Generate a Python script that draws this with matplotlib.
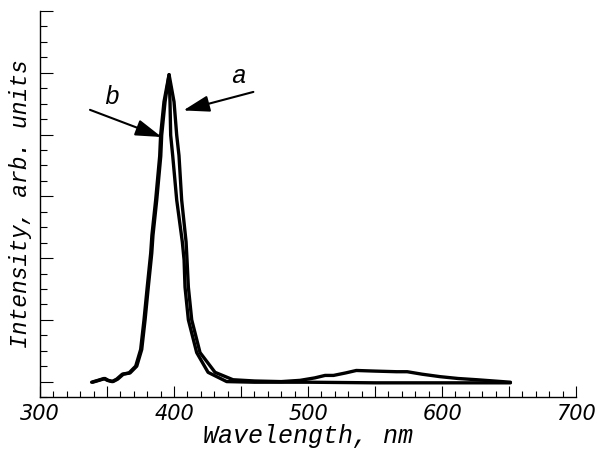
import numpy as np
import matplotlib
matplotlib.use('Agg')
import matplotlib.pyplot as plt
from matplotlib.ticker import MultipleLocator

# shared rising edge (both spectra overlap here)
left_wl = [339.3, 344, 348.5, 351, 354.5, 358, 362.2, 367.2, 372.2, 375.9, 378.4,
           380.8, 383.4, 384.3, 387.1, 390.1, 390.8, 393.3, 396.3]
left_int = [-0.01, 0.02, 0.05, 0.02, 0.0, 0.04, 0.12, 0.14, 0.25, 0.52, 1.0,
            1.53, 2.08, 2.37, 2.94, 3.65, 3.99, 4.53, 4.97]

# falling edge + tail, curve a (outer, with broad band near 540 nm)
a_wl = [400.0, 402.0, 403.7, 405.7, 409.0, 409.7, 410.7, 413.2, 419.4, 430.6, 444.0,
        460, 480, 494, 505, 512.7, 519, 528, 536, 550, 566, 574, 585, 598.5, 612, 626, 651]
a_int = [4.53, 3.99, 3.66, 2.94, 2.26, 1.97, 1.53, 1.0, 0.47, 0.15, 0.03,
         0.01, 0.0, 0.02, 0.06, 0.10, 0.10, 0.14, 0.18, 0.17, 0.16, 0.16, 0.12, 0.08, 0.05, 0.03, -0.01]

# falling edge + tail, curve b (inner, flat tail)
b_wl = [397.0, 397.5, 399.0, 402.0, 406.2, 407.5, 408.2, 410.7, 416.9, 425.4, 439.3,
        460, 500, 550, 600, 651]
b_int = [4.53, 3.99, 3.66, 2.94, 2.26, 1.97, 1.53, 1.0, 0.47, 0.15, 0.0,
         -0.01, -0.01, -0.02, -0.02, -0.02]

lab_font = dict(family=['Liberation Mono', 'DejaVu Sans Mono'], style='italic')

fig = plt.figure(figsize=(5.97, 4.59), dpi=100)
ax = fig.add_axes([0.067, 0.135, 0.898, 0.841])

# curve a
ax.plot(left_wl + a_wl, left_int + a_int, color='black', lw=2.4,
        solid_joinstyle='round', solid_capstyle='round')
# curve b (slightly shifted rising edge so the overlap looks thick)
ax.plot([w - 0.8 for w in left_wl[:-1]] + [left_wl[-1]] + b_wl, left_int + b_int,
        color='black', lw=2.4, solid_joinstyle='round', solid_capstyle='round')

ax.set_xlim(300, 700)
ax.set_ylim(-0.25, 6)

ax.spines['top'].set_visible(False)
ax.spines['right'].set_visible(False)
for s in ['left', 'bottom']:
    ax.spines[s].set_linewidth(1.0)

ax.xaxis.set_minor_locator(MultipleLocator(10))
ax.yaxis.set_major_locator(MultipleLocator(1))
ax.yaxis.set_minor_locator(MultipleLocator(0.25))
ax.set_xticks([300, 350, 400, 450, 500, 550, 600, 650, 700])
ax.set_xticklabels(['300', '', '400', '', '500', '', '600', '', '700'],
                   family=['DejaVu Sans'], style='italic', fontsize=15)
ax.set_yticklabels([])
ax.tick_params(axis='x', which='major', direction='in', length=8, width=0.8, pad=5)
ax.tick_params(axis='x', which='minor', direction='in', length=4, width=0.8)
ax.tick_params(axis='y', which='major', direction='in', length=9, width=0.8)
ax.tick_params(axis='y', which='minor', direction='in', length=5, width=0.8)

ax.set_xlabel('Wavelength, nm', fontsize=18, labelpad=0, **lab_font)
ax.set_ylabel('Intensity, arb. units', fontsize=16.5, labelpad=2, **lab_font)

arrow = dict(arrowstyle='-|>,head_length=0.8,head_width=0.25', color='black', lw=1.5,
             mutation_scale=20, shrinkA=0, shrinkB=0)
ax.annotate('', xy=(406.9, 4.39), xytext=(459.2, 4.69), arrowprops=arrow)
ax.annotate('', xy=(390.8, 3.96), xytext=(337.3, 4.40), arrowprops=arrow)
ax.text(448.5, 4.95, 'a', fontsize=18, ha='center', va='center', **lab_font)
ax.text(353.5, 4.6, 'b', fontsize=18, ha='center', va='center', **lab_font)

fig.savefig('out.png', dpi=100)
